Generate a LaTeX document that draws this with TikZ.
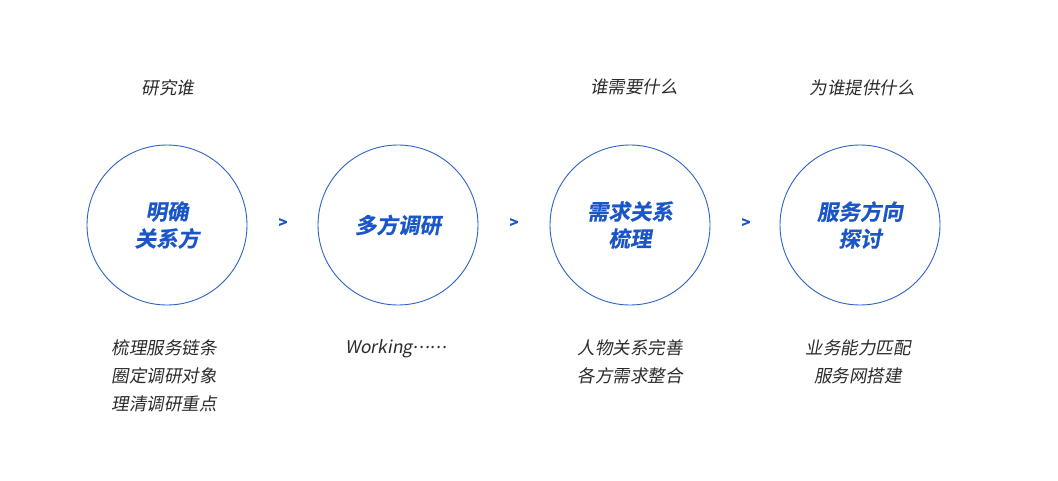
\documentclass[tikz,border=0pt]{standalone}
\usepackage{fontspec}
\newfontfamily\cjk[FakeSlant=0.18]{Noto Sans CJK SC}
\newfontfamily\cjkb[FakeSlant=0.18,FakeBold=0.6]{Noto Sans CJK SC Bold}
\newfontfamily\cjkbu[FakeBold=1]{Noto Sans CJK SC Bold}
\definecolor{ringblue}{HTML}{2E63C6}
\definecolor{titleblue}{HTML}{1A56C8}
\definecolor{graytxt}{HTML}{2B2B2B}
\newcommand\mdotrow{\raisebox{0.3em}{.\kern0.8pt.\kern0.8pt.\kern0.8pt.\kern0.8pt.\kern0.8pt.}}
\tikzset{
  ring/.style={circle,draw=ringblue,line width=0.9pt,minimum size=160pt,inner sep=0pt},
  title/.style={font=\cjkb\fontsize{21.5}{27}\selectfont,text=titleblue,align=center},
  note/.style={font=\cjk\fontsize{17.5}{28}\selectfont,text=graytxt,align=center},
  chev/.style={font=\cjkbu\fontsize{15}{15}\selectfont,text=titleblue}
}
\begin{document}
\begin{tikzpicture}[x=1pt,y=-1pt]
\useasboundingbox (0,0) rectangle (1058,480);
\fill[white] (0,0) rectangle (1058,480);
% rings
\node[ring] (c1) at (167,225) {};
\node[ring] (c2) at (398,225) {};
\node[ring] (c3) at (630,225) {};
\node[ring] (c4) at (860,225) {};
% titles
\node[title] (t1) at (167,225) {明确\\关系方};
\node[title] (t2) at (398,225) {多方调研};
\node[title] (t3) at (630,225) {需求关系\\梳理};
\node[title] (t4) at (860,225) {服务方向\\探讨};
% chevrons
\node[chev] (a1) at (283,223) {>};
\node[chev] (a2) at (514,223) {>};
\node[chev] (a3) at (746,223) {>};
% top labels
\node[note] (q1) at (168,88) {研究谁};
\node[note] (q3) at (634,87) {谁需要什么};
\node[note] (q4) at (862,88) {为谁提供什么};
% bottom labels
\node[note,anchor=north] (b1) at (164,336) {梳理服务链条\\圈定调研对象\\理清调研重点};
\node[note,anchor=north] (b2) at (396,336) {Working\kern1pt\mdotrow};
\node[note,anchor=north] (b3) at (630,336) {人物关系完善\\各方需求整合};
\node[note,anchor=north] (b4) at (858,336) {业务能力匹配\\服务网搭建};
\end{tikzpicture}
\end{document}
